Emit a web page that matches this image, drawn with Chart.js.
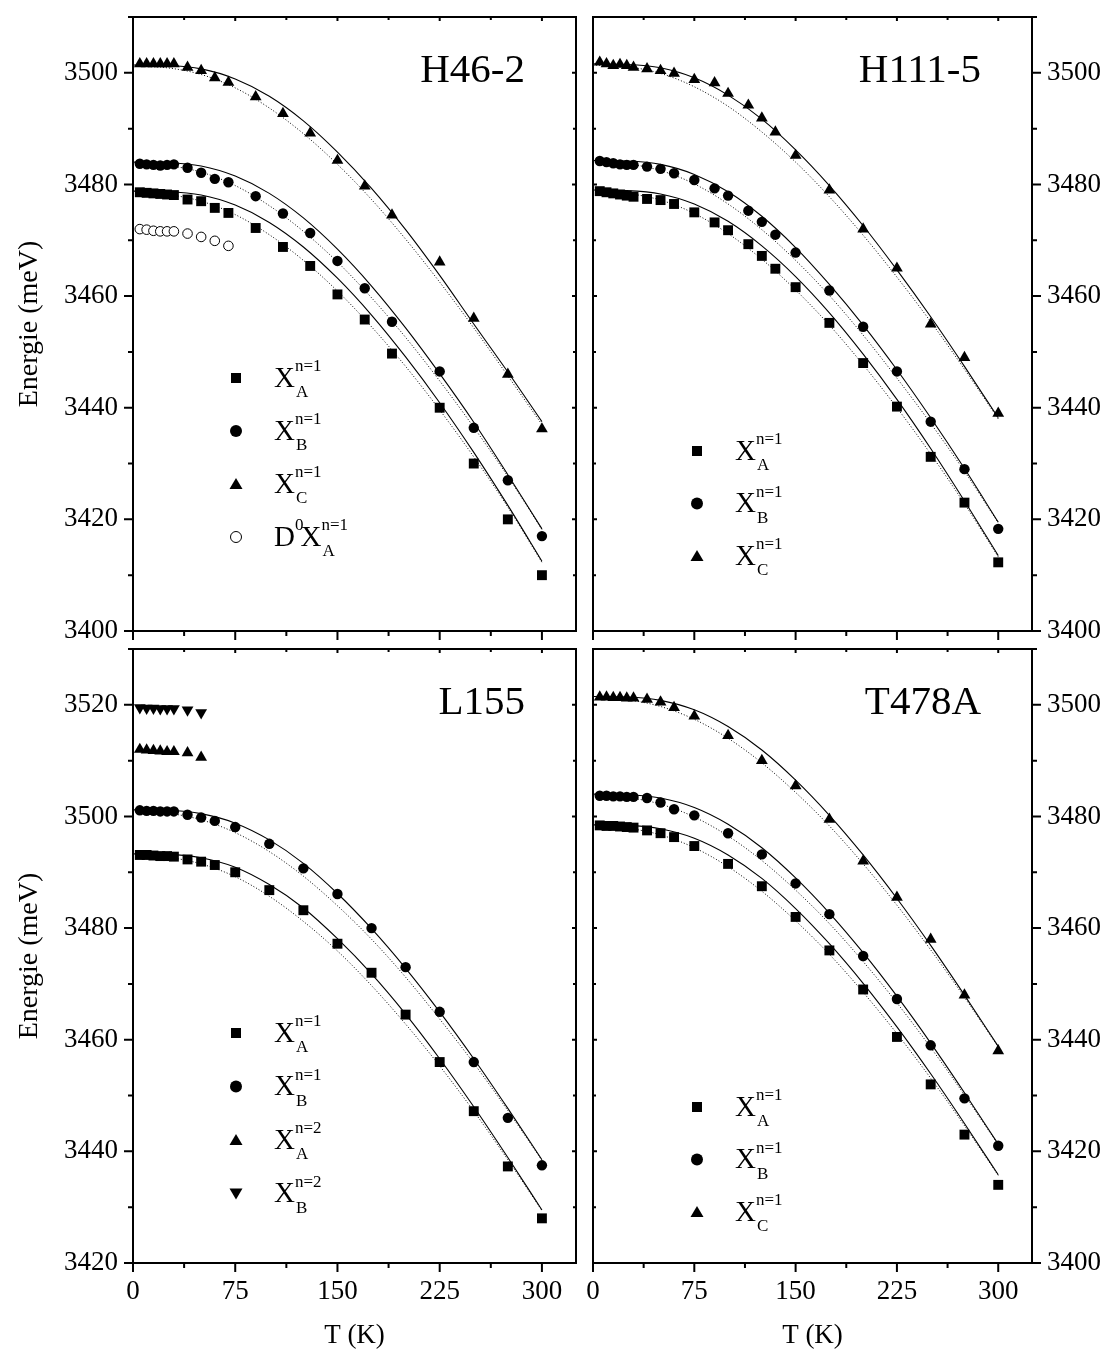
<!DOCTYPE html>
<html>
<head>
<meta charset="utf-8">
<script src="https://cdn.jsdelivr.net/npm/chart.js@4.4.1/dist/chart.umd.min.js"></script>
<style>
html, body { margin: 0; padding: 0; background: #fff; }
body { width: 1110px; height: 1356px; position: relative; overflow: hidden; }
canvas { position: absolute; }
</style>
</head>
<body>
<canvas id="pH46" width="586" height="640" style="left:0;top:0"></canvas>
<canvas id="pH111" width="524" height="640" style="left:586px;top:0"></canvas>
<canvas id="pL155" width="586" height="716" style="left:0;top:640px"></canvas>
<canvas id="pT478" width="524" height="716" style="left:586px;top:640px"></canvas>
<script>
// axis ticks
const X_MAX = 325;
const X_MAJOR = 75, X_MINOR = 37.5;
const Y_MAJOR = 20, Y_MINOR = 10;

// temperatures of the fitted curves
const FIT_T = [0, 25, 50, 75, 100, 125, 150, 175, 200, 225, 250, 275, 300];

// ---- H46-2 ----
const T_H46 = [5, 10, 15, 20, 25, 30, 40, 50, 60, 70, 90, 110, 130, 150, 170, 190, 225, 250, 275, 300];
const H46_XA = [3478.6, 3478.5, 3478.4, 3478.3, 3478.2, 3478.1, 3477.3, 3477.0, 3475.8, 3474.9, 3472.2, 3468.8, 3465.4, 3460.3, 3455.8, 3449.7, 3440.0, 3430.0, 3420.0, 3410.0];
const H46_XB = [3483.7, 3483.6, 3483.5, 3483.4, 3483.5, 3483.6, 3483.0, 3482.1, 3481.0, 3480.4, 3477.9, 3474.8, 3471.3, 3466.3, 3461.4, 3455.4, 3446.5, 3436.4, 3427.0, 3417.0];
const H46_XC = [3501.6, 3501.6, 3501.6, 3501.6, 3501.6, 3501.6, 3501.0, 3500.4, 3499.1, 3498.3, 3495.7, 3492.7, 3489.2, 3484.3, 3479.7, 3474.5, 3466.1, 3456.0, 3446.0, 3436.2];
const T_H46_D0 = [5, 10, 15, 20, 25, 30, 40, 50, 60, 70];
const H46_D0XA = [3472.0, 3471.9, 3471.7, 3471.6, 3471.6, 3471.6, 3471.2, 3470.6, 3469.9, 3469.0];
const H46_XA_FIT = [3478.8, 3478.7, 3478.1, 3476.3, 3473.2, 3468.8, 3463.2, 3456.6, 3449.1, 3440.9, 3432.0, 3422.5, 3412.5];
const H46_XA_FIT2 = [3478.5, 3478.2, 3477.0, 3474.6, 3471.0, 3466.4, 3460.9, 3454.5, 3447.4, 3439.6, 3431.2, 3422.2, 3412.3];
const H46_XB_FIT = [3484.0, 3483.9, 3483.3, 3481.5, 3478.4, 3474.0, 3468.4, 3461.8, 3454.3, 3446.1, 3437.4, 3428.0, 3418.3];
const H46_XB_FIT2 = [3483.7, 3483.4, 3482.2, 3479.8, 3476.2, 3471.6, 3466.1, 3459.7, 3452.6, 3444.8, 3436.5, 3427.7, 3418.2];
const H46_XC_FIT = [3501.4, 3501.3, 3500.7, 3498.9, 3495.8, 3491.4, 3485.8, 3479.3, 3471.9, 3463.7, 3455.0, 3446.4, 3437.5];
const H46_XC_FIT2 = [3501.2, 3500.9, 3499.7, 3497.3, 3493.7, 3489.1, 3483.6, 3477.3, 3470.2, 3462.5, 3454.3, 3445.7, 3437.0];

// ---- H111-5 ----
const T_H111 = [5, 10, 15, 20, 25, 30, 40, 50, 60, 75, 90, 100, 115, 125, 135, 150, 175, 200, 225, 250, 275, 300];
const H111_XA = [3478.8, 3478.6, 3478.4, 3478.2, 3478.0, 3477.8, 3477.4, 3477.2, 3476.5, 3475.0, 3473.2, 3471.8, 3469.3, 3467.2, 3464.9, 3461.6, 3455.2, 3448.0, 3440.2, 3431.2, 3423.0, 3412.3];
const H111_XB = [3484.2, 3484.0, 3483.8, 3483.6, 3483.5, 3483.5, 3483.2, 3482.8, 3482.0, 3480.8, 3479.3, 3478.0, 3475.3, 3473.3, 3471.0, 3467.8, 3461.0, 3454.5, 3446.5, 3437.5, 3429.0, 3418.3];
const H111_XC = [3501.9, 3501.6, 3501.3, 3501.5, 3501.3, 3501.0, 3500.7, 3500.4, 3499.9, 3498.8, 3498.2, 3496.3, 3494.2, 3491.9, 3489.4, 3485.2, 3479.0, 3472.0, 3465.0, 3455.0, 3449.0, 3439.0];
const H111_XA_FIT = [3479.0, 3478.9, 3478.3, 3476.5, 3473.4, 3469.0, 3463.5, 3457.0, 3449.6, 3441.5, 3432.7, 3423.3, 3413.5];
const H111_XA_FIT2 = [3478.7, 3478.4, 3477.2, 3474.8, 3471.2, 3466.6, 3461.1, 3454.8, 3447.7, 3440.0, 3431.7, 3422.8, 3413.3];
const H111_XB_FIT = [3484.3, 3484.2, 3483.6, 3481.8, 3478.7, 3474.3, 3468.7, 3462.1, 3454.8, 3446.8, 3438.2, 3429.1, 3419.5];
const H111_XB_FIT2 = [3484.0, 3483.7, 3482.5, 3480.1, 3476.5, 3471.9, 3466.4, 3460.1, 3453.0, 3445.3, 3437.2, 3428.6, 3419.4];
const H111_XC_FIT = [3501.6, 3501.5, 3500.9, 3499.1, 3496.0, 3491.7, 3486.2, 3479.8, 3472.6, 3464.7, 3456.3, 3447.4, 3438.2];
const H111_XC_FIT2 = [3501.4, 3501.1, 3499.9, 3497.5, 3494.0, 3489.4, 3484.0, 3477.8, 3470.9, 3463.4, 3455.4, 3446.9, 3438.0];

// ---- L155 ----
const T_L155 = [5, 10, 15, 20, 25, 30, 40, 50, 60, 75, 100, 125, 150, 175, 200, 225, 250, 275, 300];
const L155_XA = [3493.1, 3493.1, 3493.0, 3492.9, 3492.9, 3492.8, 3492.3, 3491.9, 3491.3, 3490.0, 3486.8, 3483.2, 3477.2, 3472.0, 3464.5, 3456.0, 3447.2, 3437.3, 3428.0];
const L155_XB = [3501.1, 3501.0, 3501.0, 3500.9, 3500.9, 3500.9, 3500.3, 3499.8, 3499.2, 3498.1, 3495.1, 3490.7, 3486.1, 3480.0, 3473.0, 3465.0, 3456.0, 3446.0, 3437.5];
const T_L155_N2 = [5, 10, 15, 20, 25, 30, 40, 50];
const L155_XA2 = [3512.0, 3511.9, 3511.8, 3511.7, 3511.6, 3511.6, 3511.4, 3510.6];
const L155_XB2 = [3519.5, 3519.4, 3519.4, 3519.3, 3519.3, 3519.3, 3519.1, 3518.6];
const L155_XA_FIT = [3493.3, 3493.2, 3492.6, 3490.9, 3487.8, 3483.6, 3478.1, 3471.8, 3464.6, 3456.6, 3448.0, 3438.9, 3429.5];
const L155_XA_FIT2 = [3493.0, 3492.7, 3491.5, 3489.2, 3485.7, 3481.2, 3475.9, 3469.7, 3462.8, 3455.3, 3447.2, 3438.5, 3429.4];
const L155_XB_FIT = [3501.2, 3501.1, 3500.5, 3498.8, 3495.8, 3491.6, 3486.2, 3479.9, 3472.8, 3465.0, 3456.6, 3447.7, 3438.5];
const L155_XB_FIT2 = [3500.9, 3500.6, 3499.4, 3497.1, 3493.7, 3489.3, 3484.0, 3478.0, 3471.2, 3463.7, 3455.8, 3447.3, 3438.4];

// ---- T478A ----
const T_T478 = [5, 10, 15, 20, 25, 30, 40, 50, 60, 75, 100, 125, 150, 175, 200, 225, 250, 275, 300];
const T478_XA = [3478.4, 3478.3, 3478.3, 3478.2, 3478.1, 3478.0, 3477.5, 3477.0, 3476.3, 3474.7, 3471.5, 3467.5, 3462.0, 3456.0, 3449.0, 3440.5, 3432.0, 3423.0, 3414.0];
const T478_XB = [3483.7, 3483.7, 3483.6, 3483.6, 3483.5, 3483.5, 3483.3, 3482.5, 3481.3, 3480.2, 3477.0, 3473.2, 3468.0, 3462.5, 3455.0, 3447.3, 3439.0, 3429.5, 3421.0];
const T478_XC = [3501.4, 3501.4, 3501.3, 3501.3, 3501.2, 3501.2, 3501.0, 3500.5, 3499.5, 3498.0, 3494.5, 3490.0, 3485.5, 3479.5, 3472.0, 3465.5, 3458.0, 3448.0, 3438.0];
const T478_XA_FIT = [3478.5, 3478.4, 3477.8, 3476.1, 3473.1, 3468.9, 3463.5, 3457.2, 3450.1, 3442.3, 3433.9, 3425.0, 3415.8];
const T478_XA_FIT2 = [3478.2, 3477.9, 3476.7, 3474.4, 3471.0, 3466.6, 3461.3, 3455.3, 3448.5, 3441.1, 3433.1, 3424.6, 3415.7];
const T478_XB_FIT = [3484.0, 3483.9, 3483.3, 3481.6, 3478.6, 3474.4, 3469.0, 3462.7, 3455.6, 3447.8, 3439.4, 3430.5, 3421.3];
const T478_XB_FIT2 = [3483.7, 3483.4, 3482.2, 3479.9, 3476.5, 3472.1, 3466.8, 3460.8, 3454.0, 3446.6, 3438.6, 3430.1, 3421.2];
const T478_XC_FIT = [3501.5, 3501.4, 3500.8, 3499.1, 3496.1, 3491.9, 3486.5, 3480.2, 3473.1, 3465.3, 3456.9, 3448.0, 3438.8];
const T478_XC_FIT2 = [3501.2, 3500.9, 3499.7, 3497.4, 3494.0, 3489.6, 3484.3, 3478.3, 3471.5, 3464.1, 3456.1, 3447.6, 3438.7];

Chart.defaults.font.family = '"Liberation Serif", "Times New Roman", serif';
Chart.defaults.color = '#000';

const pts = (xs, ys) => ys.map((v, i) => ({ x: xs[i], y: v }));

function marks(xs, ys, style, extra) {
    return Object.assign({
        data: pts(xs, ys),
        pointStyle: style,
        pointRadius: 7,
        backgroundColor: '#000',
        borderColor: '#000',
        borderWidth: 0,
        showLine: false,
        order: 0
    }, extra || {});
}

function fit(ys, dotted) {
    return {
        type: 'line',
        data: pts(FIT_T, ys),
        borderColor: '#000',
        borderWidth: dotted ? 1 : 1.1,
        borderDash: dotted ? [1, 2] : [],
        pointRadius: 0,
        cubicInterpolationMode: 'monotone',
        fill: false,
        order: 1
    };
}

// fixed axis box sizes so the four frames line up
function fixBox(size) {
    return function (s) {
        if (s.isHorizontal()) s.height = size; else s.width = size;
        s.paddingTop = s.paddingBottom = s.paddingLeft = s.paddingRight = 0;
    };
}

function legendMarker(ctx, m, cx, cy) {
    ctx.beginPath();
    if (m === 'rect') {
        ctx.rect(cx - 5, cy - 5, 10, 10);
        ctx.fill();
    } else if (m === 'circle' || m === 'open') {
        ctx.arc(cx, cy, m === 'open' ? 5.5 : 6, 0, Math.PI * 2);
        if (m === 'open') { ctx.lineWidth = 1; ctx.stroke(); } else ctx.fill();
    } else if (m === 'up') {
        ctx.moveTo(cx, cy - 6); ctx.lineTo(cx + 6.5, cy + 5); ctx.lineTo(cx - 6.5, cy + 5);
        ctx.closePath(); ctx.fill();
    } else if (m === 'down') {
        ctx.moveTo(cx, cy + 6); ctx.lineTo(cx + 6.5, cy - 5); ctx.lineTo(cx - 6.5, cy - 5);
        ctx.closePath(); ctx.fill();
    }
}

// frame, minor ticks, panel name and legend
const panelDeco = {
    id: 'panelDeco',
    afterDraw(chart, args, o) {
        const { ctx, chartArea: a, scales: { x, y } } = chart;
        ctx.save();
        ctx.strokeStyle = '#000';
        ctx.fillStyle = '#000';
        ctx.lineWidth = 2;
        ctx.beginPath();
        for (let v = 0; v <= X_MAX; v += X_MINOR) {
            const px = x.getPixelForValue(v);
            const major = v % X_MAJOR === 0;
            ctx.moveTo(px, a.bottom); ctx.lineTo(px, a.bottom + (major ? 9 : 5));
            ctx.moveTo(px, a.top); ctx.lineTo(px, a.top + (major ? 4 : 3));
        }
        for (let v = Math.ceil(y.min / Y_MINOR) * Y_MINOR; v <= y.max; v += Y_MINOR) {
            const py = y.getPixelForValue(v);
            const major = v % Y_MAJOR === 0;
            const len = major ? 9 : 5;
            if (o.side === 'left') {
                ctx.moveTo(a.left - len, py); ctx.lineTo(a.left, py);
                ctx.moveTo(a.right, py); ctx.lineTo(a.right - (major ? 4 : 3), py);
            } else {
                ctx.moveTo(a.right, py); ctx.lineTo(a.right + len, py);
                ctx.moveTo(a.left, py); ctx.lineTo(a.left + (major ? 4 : 3), py);
            }
        }
        ctx.stroke();
        ctx.strokeRect(a.left, a.top, a.right - a.left, a.bottom - a.top);

        // panel name
        ctx.font = '41px "Liberation Serif"';
        ctx.textAlign = 'right';
        ctx.textBaseline = 'alphabetic';
        ctx.fillText(o.name, a.right - 51, a.top + 65);

        // legend
        const big = '29px "Liberation Serif"', small = '17px "Liberation Serif"';
        ctx.textAlign = 'left';
        o.legend.forEach((row, i) => {
            const mx = a.left + o.lx, my = a.top + o.ly + i * o.gap;
            legendMarker(ctx, row.m, mx, my);
            let tx = mx + 38;
            if (row.pre) {
                ctx.font = big;
                ctx.fillText(row.pre, tx, my + 8.5);
                tx += ctx.measureText(row.pre).width;
                ctx.font = small;
                ctx.fillText(row.preSup, tx, my - 7);
                tx += ctx.measureText(row.preSup).width - 3;
            }
            ctx.font = big;
            ctx.fillText('X', tx, my + 8.5);
            tx += ctx.measureText('X').width;
            ctx.font = small;
            ctx.fillText(row.sup, tx, my - 7);
            ctx.fillText(row.sub, tx + 1, my + 19);
        });
        ctx.restore();
    }
};

function drawPanel(id, p) {
    new Chart(document.getElementById(id), {
        type: 'scatter',
        data: { datasets: p.datasets },
        options: {
            responsive: false,
            animation: false,
            events: [],
            layout: { padding: p.padding },
            scales: {
                x: {
                    type: 'linear',
                    min: 0,
                    max: X_MAX,
                    afterFit: fixBox(p.xBox),
                    grid: { display: false, drawTicks: true, tickLength: 9 },
                    border: { display: false },
                    ticks: {
                        display: p.xLabels,
                        stepSize: X_MAJOR,
                        includeBounds: false,
                        autoSkip: false,
                        maxRotation: 0,
                        padding: 4,
                        font: { size: 27 },
                        callback: v => String(v)
                    },
                    title: {
                        display: p.xLabels,
                        text: 'T (K)',
                        font: { size: 27 },
                        padding: { top: 0, bottom: 4 }
                    }
                },
                y: {
                    type: 'linear',
                    position: p.side,
                    min: p.yMin,
                    max: p.yMax,
                    afterFit: fixBox(p.yBox),
                    grid: { display: false, drawTicks: true, tickLength: 9 },
                    border: { display: false },
                    ticks: {
                        stepSize: Y_MAJOR,
                        includeBounds: false,
                        padding: 6,
                        font: { size: 27 },
                        callback: v => String(v)
                    },
                    title: {
                        display: p.side === 'left',
                        text: 'Energie (meV)',
                        font: { size: 28 },
                        padding: { top: 13, bottom: 0 }
                    }
                }
            },
            plugins: {
                legend: { display: false },
                tooltip: { enabled: false },
                panelDeco: p.deco
            }
        },
        plugins: [panelDeco]
    });
}

const CIRCLE = { pointRadius: 5.2 };
const TRI = { pointRadius: 6.8 };

drawPanel('pH46', {
    side: 'left', yMin: 3400, yMax: 3510, xLabels: false,
    padding: { left: 0, top: 17, right: 10, bottom: 0 }, xBox: 9, yBox: 133,
    datasets: [
        marks(T_H46, H46_XA, 'rect'),
        marks(T_H46, H46_XB, 'circle', CIRCLE),
        marks(T_H46, H46_XC, 'triangle', TRI),
        marks(T_H46_D0, H46_D0XA, 'circle', { pointRadius: 4.8, backgroundColor: '#fff', borderWidth: 1 }),
        fit(H46_XA_FIT), fit(H46_XA_FIT2, true),
        fit(H46_XB_FIT), fit(H46_XB_FIT2, true),
        fit(H46_XC_FIT), fit(H46_XC_FIT2, true)
    ],
    deco: {
        side: 'left', name: 'H46-2', lx: 103, ly: 361, gap: 53,
        legend: [
            { m: 'rect', sup: 'n=1', sub: 'A' },
            { m: 'circle', sup: 'n=1', sub: 'B' },
            { m: 'up', sup: 'n=1', sub: 'C' },
            { m: 'open', pre: 'D', preSup: '0', sup: 'n=1', sub: 'A' }
        ]
    }
});

drawPanel('pH111', {
    side: 'right', yMin: 3400, yMax: 3510, xLabels: false,
    padding: { left: 2, top: 17, right: 0, bottom: 0 }, xBox: 9, yBox: 78,
    datasets: [
        marks(T_H111, H111_XA, 'rect'),
        marks(T_H111, H111_XB, 'circle', CIRCLE),
        marks(T_H111, H111_XC, 'triangle', TRI),
        fit(H111_XA_FIT), fit(H111_XA_FIT2, true),
        fit(H111_XB_FIT), fit(H111_XB_FIT2, true),
        fit(H111_XC_FIT), fit(H111_XC_FIT2, true)
    ],
    deco: {
        side: 'right', name: 'H111-5', lx: 104, ly: 434, gap: 52.5,
        legend: [
            { m: 'rect', sup: 'n=1', sub: 'A' },
            { m: 'circle', sup: 'n=1', sub: 'B' },
            { m: 'up', sup: 'n=1', sub: 'C' }
        ]
    }
});

drawPanel('pL155', {
    side: 'left', yMin: 3420, yMax: 3530, xLabels: true,
    padding: { left: 0, top: 9, right: 10, bottom: 0 }, xBox: 93, yBox: 133,
    datasets: [
        marks(T_L155, L155_XA, 'rect'),
        marks(T_L155, L155_XB, 'circle', CIRCLE),
        marks(T_L155_N2, L155_XA2, 'triangle', TRI),
        marks(T_L155_N2, L155_XB2, 'triangle', Object.assign({ rotation: 180 }, TRI)),
        fit(L155_XA_FIT), fit(L155_XA_FIT2, true),
        fit(L155_XB_FIT), fit(L155_XB_FIT2, true)
    ],
    deco: {
        side: 'left', name: 'L155', lx: 103, ly: 384, gap: 53.5,
        legend: [
            { m: 'rect', sup: 'n=1', sub: 'A' },
            { m: 'circle', sup: 'n=1', sub: 'B' },
            { m: 'up', sup: 'n=2', sub: 'A' },
            { m: 'down', sup: 'n=2', sub: 'B' }
        ]
    }
});

drawPanel('pT478', {
    side: 'right', yMin: 3400, yMax: 3510, xLabels: true,
    padding: { left: 2, top: 9, right: 0, bottom: 0 }, xBox: 93, yBox: 78,
    datasets: [
        marks(T_T478, T478_XA, 'rect'),
        marks(T_T478, T478_XB, 'circle', CIRCLE),
        marks(T_T478, T478_XC, 'triangle', TRI),
        fit(T478_XA_FIT), fit(T478_XA_FIT2, true),
        fit(T478_XB_FIT), fit(T478_XB_FIT2, true),
        fit(T478_XC_FIT), fit(T478_XC_FIT2, true)
    ],
    deco: {
        side: 'right', name: 'T478A', lx: 104, ly: 458, gap: 52.5,
        legend: [
            { m: 'rect', sup: 'n=1', sub: 'A' },
            { m: 'circle', sup: 'n=1', sub: 'B' },
            { m: 'up', sup: 'n=1', sub: 'C' }
        ]
    }
});
</script>
</body>
</html>
